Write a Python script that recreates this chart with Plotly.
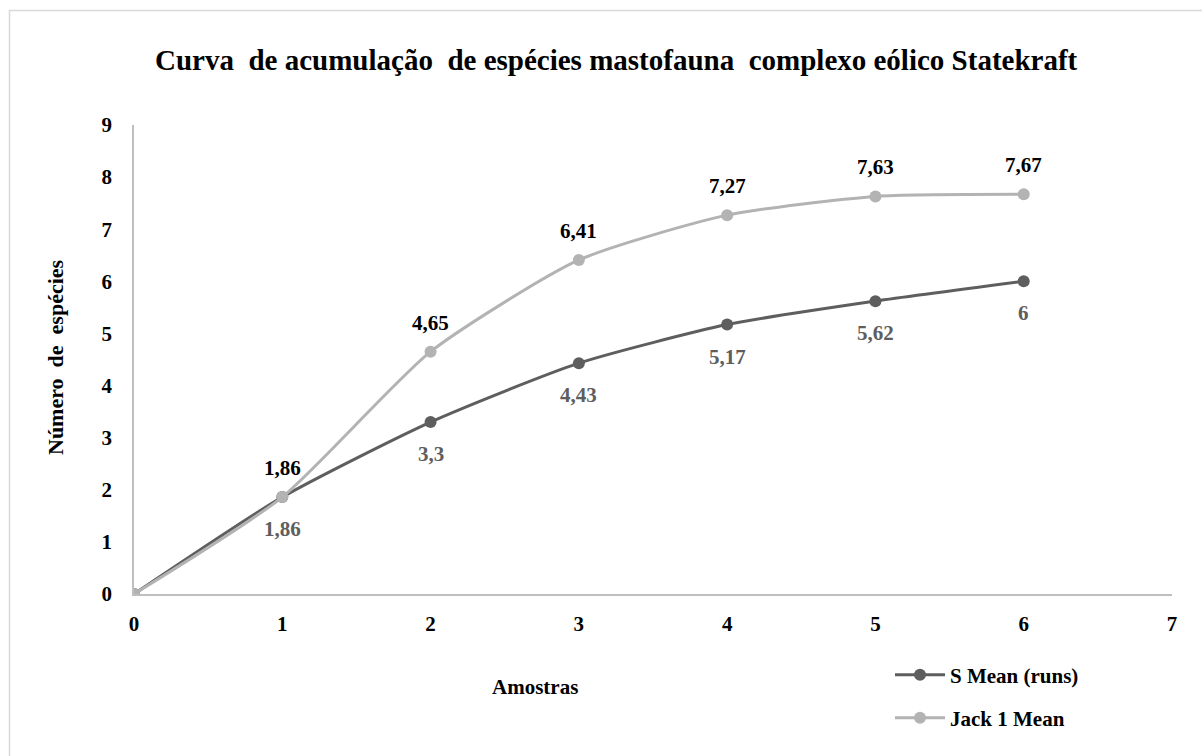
import plotly.graph_objects as go

amostras = [0, 1, 2, 3, 4, 5, 6]
s_mean = [0, 1.86, 3.3, 4.43, 5.17, 5.62, 6]
jack1 = [0, 1.86, 4.65, 6.41, 7.27, 7.63, 7.67]
x_ticks = [0, 1, 2, 3, 4, 5, 6, 7]
y_ticks = [0, 1, 2, 3, 4, 5, 6, 7, 8, 9]

S_COLOR = "#5e5e5e"
J_COLOR = "#b3b3b3"
FONT = "Liberation Serif, Times New Roman, serif"

def fmt(v):
    s = ("%.2f" % v).rstrip("0").rstrip(".")
    return s.replace(".", ",")

fig = go.Figure()
fig.add_trace(go.Scatter(
    x=amostras, y=s_mean, name="<b>S Mean (runs)</b>", mode="lines+markers",
    line=dict(color=S_COLOR, width=3, shape="spline", smoothing=0.6),
    marker=dict(color=S_COLOR, size=12), legend="legend", showlegend=True))
fig.add_trace(go.Scatter(
    x=amostras, y=jack1, name="<b>Jack 1 Mean</b>", mode="lines+markers",
    line=dict(color=J_COLOR, width=3, shape="spline", smoothing=0.6),
    marker=dict(color=J_COLOR, size=12), legend="legend2", showlegend=True))

annotations = []
for xv, yv in zip(amostras, jack1):
    if xv == 0:
        continue
    annotations.append(dict(x=xv, y=yv, xref="x", yref="y", text="<b>%s</b>" % fmt(yv),
                            showarrow=False, yshift=29, xanchor="center", yanchor="middle",
                            font=dict(family=FONT, size=21, color="#000000")))
for xv, yv in zip(amostras, s_mean):
    if xv == 0:
        continue
    annotations.append(dict(x=xv, y=yv, xref="x", yref="y", text="<b>%s</b>" % fmt(yv),
                            showarrow=False, yshift=-32, xanchor="center", yanchor="middle",
                            font=dict(family=FONT, size=21, color=S_COLOR)))

L, R, T, B = 134, 30, 125, 162
W, H = 1202, 756
pw, ph = W - L - R, H - T - B

def px_x(p):
    return (p - L) / pw

def px_y(p):
    return (H - B - p) / ph

annotations.append(dict(x=px_x(616), y=px_y(60), xref="paper", yref="paper",
                        xanchor="center", yanchor="middle",
                        text="<b>Curva  de acumulação  de espécies mastofauna  complexo eólico Statekraft</b>",
                        showarrow=False, font=dict(family=FONT, size=29, color="#000000")))
annotations.append(dict(x=px_x(535), y=px_y(687), xref="paper", yref="paper",
                        xanchor="center", yanchor="middle",
                        text="<b>Amostras</b>", showarrow=False,
                        font=dict(family=FONT, size=21, color="#000000")))
annotations.append(dict(x=px_x(55), y=px_y(357), xref="paper", yref="paper",
                        xanchor="center", yanchor="middle",
                        text="<b>Número  de  espécies</b>", showarrow=False, textangle=-90,
                        font=dict(family=FONT, size=22, color="#000000")))

fig.update_layout(
    width=W, height=H,
    margin=dict(l=L, r=R, t=T, b=B),
    paper_bgcolor="white", plot_bgcolor="white",
    font=dict(family=FONT, size=21, color="#000000"),
    annotations=annotations,
    showlegend=True,
    legend=dict(x=px_x(890), y=px_y(675), xanchor="left", yanchor="middle", itemwidth=50,
                font=dict(family=FONT, size=21, color="#000000"), bgcolor="rgba(0,0,0,0)"),
    legend2=dict(x=px_x(890), y=px_y(718), xanchor="left", yanchor="middle", itemwidth=50,
                 font=dict(family=FONT, size=21, color="#000000"), bgcolor="rgba(0,0,0,0)"),
    shapes=[dict(type="rect", xref="paper", yref="paper",
                 x0=px_x(9.5), x1=px_x(1210), y0=px_y(770), y1=px_y(10.5),
                 line=dict(color="#d9d9d9", width=1.5), fillcolor="rgba(0,0,0,0)", layer="below")],
)
fig.update_xaxes(range=[0, 7], tickvals=x_ticks, ticktext=["<b>%d</b>" % v for v in x_ticks],
                 showgrid=False, zeroline=False, showline=True, linecolor="#bfbfbf", linewidth=1.5,
                 ticks="", tickfont=dict(family=FONT, size=21, color="#000000"), ticklabelstandoff=10)
fig.update_yaxes(range=[0, 9], tickvals=y_ticks, ticktext=["<b>%d</b>" % v for v in y_ticks],
                 showgrid=False, zeroline=False, showline=True, linecolor="#bfbfbf", linewidth=1.5,
                 ticks="", tickfont=dict(family=FONT, size=21, color="#000000"), ticklabelstandoff=16)

fig.write_html("out.html", config={"displayModeBar": False},
               post_script="document.body.style.margin='0';")
